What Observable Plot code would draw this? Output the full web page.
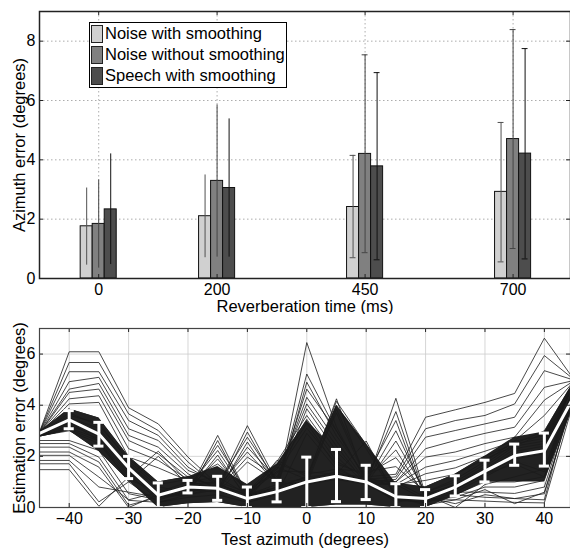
<!DOCTYPE html>
<html><head><meta charset="utf-8">
<script src="https://cdn.jsdelivr.net/npm/d3@7"></script>
<script src="https://cdn.jsdelivr.net/npm/@observablehq/plot@0.6"></script>
<style>
body{margin:0;background:#fff;font-family:"Liberation Sans",Arial,sans-serif;}
#fig{position:relative;width:570px;height:551px;overflow:hidden;background:#fff;}
#fig svg{display:block;}
.legend{position:absolute;left:89px;top:22px;width:196px;height:64px;border:1.5px solid #000;background:#fff;font-size:16.5px;color:#000;}
.row{position:absolute;left:1px;height:17px;display:flex;align-items:center;white-space:nowrap;}
.sw{width:10px;height:16px;border:1px solid #222;margin-right:2px;box-sizing:content-box;}
</style></head><body><div id="fig"></div>
<script>
// ---------- top panel data ----------
const reverbTimes = [0, 200, 450, 700];
const seriesNames = ["Noise with smoothing", "Noise without smoothing", "Speech with smoothing"];
const seriesColors = ["#d0d0d0", "#808080", "#4d4d4d"];
const errColors = ["#505050", "#444444", "#111111"];
const meanNoiseSmooth = [1.76, 2.10, 2.41, 2.92];
const loNoiseSmooth   = [0.45, 0.70, 0.70, 0.56];
const hiNoiseSmooth   = [3.05, 3.49, 4.15, 5.26];
const meanNoiseRaw    = [1.84, 3.29, 4.20, 4.70];
const loNoiseRaw      = [0.35, 0.72, 0.87, 1.01];
const hiNoiseRaw      = [3.32, 5.85, 7.54, 8.39];
const meanSpeech      = [2.33, 3.05, 3.78, 4.21];
const loSpeech        = [0.47, 0.72, 0.63, 0.66];
const hiSpeech        = [4.20, 5.38, 6.94, 7.75];
const topYTicks = [0, 2, 4, 6, 8];

// ---------- bottom panel data ----------
const azimuths = [-45,-40,-35,-30,-25,-20,-15,-10,-5,0,5,10,15,20,25,30,35,40,45];
const meanError = [2.9,3.43,2.87,1.55,0.48,0.8,0.75,0.35,0.62,1.0,1.22,1.0,0.42,0.35,0.8,1.42,2.02,2.22,4.35];
const errLow  = [null,3.08,2.4,1.13,0.0,0.57,0.28,0.0,0.22,0.0,0.23,0.31,0.0,0.0,0.45,1.0,1.65,1.62,null];
const errHigh = [null,3.79,3.33,2.0,0.96,1.06,1.22,0.8,1.06,1.97,2.27,1.65,0.93,0.7,1.24,1.85,2.48,2.91,null];
// dense pack of traces, drawn as two overlapping dark bands
const bandALow  = [2.75,3.0,2.2,1.05,0.0,0.15,0.2,0.0,0.0,0.0,0.1,0.1,0.0,0.0,0.45,1.0,1.6,1.6,4.0];
const bandAHigh = [2.95,3.85,3.5,2.0,1.0,1.2,1.6,0.9,1.7,3.4,2.2,2.0,0.95,0.8,1.3,2.0,2.75,2.95,4.95];
const bandBLow  = [2.75,3.0,2.2,1.05,0.0,0.15,0.2,0.0,0.0,0.0,0.1,0.1,0.0,0.0,0.45,1.0,1.0,1.0,4.0];
const bandBHigh = [2.95,3.85,3.5,2.0,1.0,1.2,1.2,0.9,0.9,1.4,4.0,2.5,0.95,0.8,1.3,2.0,1.8,1.6,4.95];
// individual thin traces: one row per trace, values at the azimuths above
const traces = [
 [2.95,6.09,6.09,3.9,3.27,1.97,0.9,0.5,0.8,1.2,1.3,1.2,1.3,3.53,3.82,4.11,4.46,6.62,5.0],
 [2.94,5.67,5.67,3.66,3.01,1.78,0.8,0.4,0.7,1.1,1.2,1.1,1.2,3.08,3.4,3.6,4.05,5.94,5.0],
 [2.93,5.31,5.31,3.4,2.82,1.58,0.9,0.5,0.6,6.45,3.14,1.0,1.1,2.75,3.01,3.27,3.53,5.35,4.98],
 [2.92,4.92,5.09,3.08,2.62,1.45,1.0,0.3,0.7,1.0,1.2,1.0,1.0,2.3,2.62,2.9,3.14,4.7,4.97],
 [2.91,4.63,4.85,2.82,2.36,1.32,0.7,0.4,0.8,5.22,3.0,1.1,1.0,1.97,2.17,2.5,2.75,4.2,4.96],
 [2.9,4.5,4.63,2.62,2.1,1.19,0.8,0.3,0.6,0.9,1.1,0.9,0.9,1.58,1.84,2.2,2.6,3.6,4.95],
 [2.9,4.25,4.37,2.3,1.84,1.1,0.9,0.5,0.7,4.9,2.8,1.2,0.8,1.32,1.55,2.0,2.5,3.0,4.94],
 [2.89,4.05,4.11,1.97,1.55,1.05,0.7,0.4,0.8,1.0,1.2,1.0,0.9,1.06,1.3,1.9,2.4,2.9,4.93],
 [2.62,2.62,2.23,0.54,0.3,0.6,0.8,3.2,1.0,1.1,4.25,1.0,0.3,0.3,0.3,0.25,0.2,0.18,4.2],
 [2.5,2.5,1.97,0.28,0.2,0.5,0.7,2.95,0.9,1.0,1.3,2.6,0.4,0.4,0.5,0.4,0.35,0.54,4.4],
 [2.36,2.36,1.78,0.09,0.4,0.6,0.9,2.75,1.0,4.63,3.0,1.1,0.3,0.2,0.6,0.6,0.55,0.8,4.5],
 [2.17,2.17,1.58,0.0,0.5,0.7,0.6,2.56,0.8,1.2,4.15,2.45,0.5,0.3,0.4,0.8,0.8,1.06,4.6],
 [2.04,2.04,1.19,0.3,0.6,0.8,0.7,2.36,1.1,4.31,2.6,1.0,0.2,0.4,0.15,0.5,0.35,0.3,4.7],
 [1.84,1.84,0.8,0.6,0.4,0.5,0.8,2.17,0.9,1.0,4.0,2.3,0.4,0.5,0.0,0.9,1.2,1.5,4.75],
 [1.71,1.71,0.22,1.0,2.0,0.9,0.7,1.97,1.2,4.05,2.4,0.9,0.3,0.2,0.5,1.0,1.0,1.2,4.8],
 [1.48,1.48,0.05,1.2,2.2,1.0,0.6,1.78,1.0,0.9,3.85,1.2,0.4,0.1,0.3,0.7,0.15,0.6,4.3],
 [2.88,3.6,3.3,1.8,0.8,0.6,2.82,0.5,0.9,3.86,2.2,1.0,0.9,0.3,0.7,1.3,1.9,2.1,4.9],
 [2.87,3.5,3.1,1.7,0.7,0.5,2.62,0.4,1.85,1.2,3.7,1.1,1.0,0.4,0.8,1.4,2.0,2.2,4.9],
 [2.86,3.4,3.0,1.6,0.6,0.7,2.43,0.6,1.8,3.6,2.0,0.9,4.27,0.5,0.9,1.5,2.1,2.3,4.88],
 [2.85,3.3,2.9,1.5,0.5,0.8,2.23,0.5,1.72,1.3,1.5,1.0,3.75,0.4,0.7,1.4,2.2,2.4,4.87],
 [2.84,3.2,2.8,1.4,0.4,0.6,2.05,0.3,1.65,3.45,1.8,1.2,3.4,0.3,0.8,1.5,2.3,2.5,4.86],
 [2.83,3.1,2.7,1.3,0.3,0.7,1.9,0.4,1.58,1.1,1.4,1.0,3.0,0.5,0.9,1.6,2.4,2.6,4.85],
 [2.82,3.05,2.6,1.2,0.5,0.9,1.0,0.6,1.5,3.3,1.6,0.9,2.6,0.6,1.0,1.7,2.5,2.7,4.83],
 [2.8,3.0,2.5,1.1,0.6,1.0,1.2,0.5,1.42,1.4,1.3,1.1,2.25,0.4,0.6,1.2,1.8,1.4,4.8],
 [2.86,3.7,3.2,1.9,0.9,1.1,1.7,0.7,1.35,3.1,1.7,1.3,1.95,0.5,0.7,1.3,1.7,1.2,4.75],
 [2.84,3.35,2.6,1.0,0.2,0.4,0.5,0.2,0.5,2.9,1.5,1.4,1.6,0.6,1.1,1.8,2.6,2.8,4.85]
];
const bottomXTicks = [-40,-30,-20,-10,0,10,20,30,40];
const bottomYTicks = [0, 2, 4, 6];

const font = '"Liberation Sans", Arial, Helvetica, sans-serif';
const fig = document.getElementById("fig");

// ---------- top panel ----------
{
  const W = 570, H = 314, mL = 39, mR = 0, mT = 11, mB = 36;
  const pw = W - mL - mR, ph = H - mT - mB;
  const step = 20.3; // bar width in x units
  const means = [meanNoiseSmooth, meanNoiseRaw, meanSpeech];
  const los = [loNoiseSmooth, loNoiseRaw, loSpeech];
  const his = [hiNoiseSmooth, hiNoiseRaw, hiSpeech];
  const rows = [];
  seriesNames.forEach((s, k) => reverbTimes.forEach((rt, i) => rows.push({series: s, k, rt, mean: means[k][i], lo: los[k][i], hi: his[k][i]})));
  const cx = d => d.rt + (d.k - 1) * step;
  const caps = rows.filter(d => d.rt >= 450).flatMap(d => [{...d, v: d.lo}, {...d, v: d.hi}]);
  const capHalf = 5;
  const marks = [
    Plot.gridY(topYTicks.slice(1), {stroke: "#999", strokeOpacity: 0.8, strokeDasharray: "1.5,2.5"}),
    Plot.gridX(reverbTimes, {stroke: "#999", strokeOpacity: 0.8, strokeDasharray: "1.5,2.5"}),
    Plot.rect(rows, {x1: d => cx(d) - step / 2, x2: d => cx(d) + step / 2, y1: 0, y2: "mean", fill: "series", stroke: "#111", strokeWidth: 1}),
  ];
  [0, 1, 2].forEach(k => {
    marks.push(Plot.ruleX(rows.filter(d => d.k === k), {x: cx, y1: "lo", y2: "hi", stroke: errColors[k], strokeWidth: 1}));
    marks.push(Plot.ruleY(caps.filter(d => d.k === k), {y: "v", x1: d => cx(d) - capHalf, x2: d => cx(d) + capHalf, stroke: errColors[k], strokeWidth: 1}));
  });
  marks.push(
    Plot.ruleY(topYTicks, {insetRight: pw - 4, stroke: "#222"}),
    Plot.ruleY(topYTicks, {insetLeft: pw - 4, stroke: "#222"}),
    Plot.ruleX(reverbTimes, {insetBottom: ph - 4, stroke: "#222"}),
    Plot.ruleX(reverbTimes, {insetTop: ph - 4, stroke: "#222"}),
    Plot.frame({stroke: "#222", strokeWidth: 1.5}),
    Plot.axisX(reverbTimes, {tickSize: 0, tickPadding: 5, label: null}),
    Plot.axisY(topYTicks, {tickSize: 0, tickPadding: 4, label: null}),
    Plot.text(["Reverberation time (ms)"], {frameAnchor: "bottom", dy: 28, lineAnchor: "middle", textAnchor: "middle", fontSize: 16.5}),
    Plot.text(["Azimuth error (degrees)"], {frameAnchor: "left", dx: -20, rotate: -90, lineAnchor: "middle", textAnchor: "middle", fontSize: 16.5})
  );
  const p = Plot.plot({
    width: W, height: H, marginLeft: mL, marginRight: mR, marginTop: mT, marginBottom: mB,
    style: {fontFamily: font, fontSize: "16px", color: "#000", background: "white"},
    x: {domain: [-100, 797]},
    y: {domain: [0, 9]},
    color: {domain: seriesNames, range: seriesColors},
    marks
  });
  fig.appendChild(p);
}

// legend (drawn inside the top panel area)
{
  const lg = document.createElement("div");
  lg.className = "legend";
  seriesNames.forEach((s, k) => {
    const r = document.createElement("div");
    r.className = "row";
    r.style.top = (2 + k * 21) + "px";
    const sw = document.createElement("div");
    sw.className = "sw";
    sw.style.background = seriesColors[k];
    r.appendChild(sw);
    const t = document.createElement("span");
    t.textContent = s;
    r.appendChild(t);
    lg.appendChild(r);
  });
  fig.appendChild(lg);
}

// ---------- bottom panel ----------
{
  const W = 570, H = 237, mL = 39, mR = 0, mT = 14, mB = 44;
  const pw = W - mL - mR, ph = H - mT - mB;
  const tracePts = traces.flatMap((row, j) => row.map((v, i) => ({id: j, az: azimuths[i], v})));
  const bandA = azimuths.map((a, i) => ({az: a, lo: bandALow[i], hi: bandAHigh[i]}));
  const bandB = azimuths.map((a, i) => ({az: a, lo: bandBLow[i], hi: bandBHigh[i]}));
  const meanRows = azimuths.map((a, i) => ({az: a, v: meanError[i]}));
  const errRows = azimuths.map((a, i) => ({az: a, lo: errLow[i], hi: errHigh[i]})).filter(d => d.lo != null);
  const capRows = errRows.flatMap(d => [{az: d.az, v: d.lo}, {az: d.az, v: d.hi}]);
  const capHalf = 0.85;
  const p = Plot.plot({
    width: W, height: H, marginLeft: mL, marginRight: mR, marginTop: mT, marginBottom: mB,
    style: {fontFamily: font, fontSize: "16px", color: "#000", background: "white"},
    x: {domain: [-45, 44.4]},
    y: {domain: [0, 7]},
    marks: [
      Plot.gridY(bottomYTicks.slice(1), {stroke: "#ccc", strokeOpacity: 0.8}),
      Plot.gridX(bottomXTicks, {stroke: "#ccc", strokeOpacity: 0.8}),
      Plot.areaY(bandA, {x: "az", y1: "lo", y2: "hi", fill: "#222", clip: true}),
      Plot.areaY(bandB, {x: "az", y1: "lo", y2: "hi", fill: "#222", clip: true}),
      Plot.line(tracePts, {x: "az", y: "v", z: "id", stroke: "#1a1a1a", strokeWidth: 0.8, clip: true}),
      Plot.line(meanRows, {x: "az", y: "v", stroke: "#fff", strokeWidth: 3, clip: true}),
      Plot.ruleX(errRows, {x: "az", y1: "lo", y2: "hi", stroke: "#fff", strokeWidth: 3}),
      Plot.ruleY(capRows, {y: "v", x1: d => d.az - capHalf, x2: d => d.az + capHalf, stroke: "#fff", strokeWidth: 3}),
      Plot.ruleY(bottomYTicks, {insetRight: pw - 4, stroke: "#222"}),
      Plot.ruleY(bottomYTicks, {insetLeft: pw - 4, stroke: "#222"}),
      Plot.ruleX(bottomXTicks, {insetBottom: ph - 4, stroke: "#222"}),
      Plot.ruleX(bottomXTicks, {insetTop: ph - 4, stroke: "#222"}),
      Plot.frame({stroke: "#444", strokeWidth: 1.2}),
      Plot.axisX(bottomXTicks, {tickSize: 0, tickPadding: 5, label: null}),
      Plot.axisY(bottomYTicks, {tickSize: 0, tickPadding: 4, label: null}),
      Plot.text(["Test azimuth (degrees)"], {frameAnchor: "bottom", dy: 32, lineAnchor: "middle", textAnchor: "middle", fontSize: 16.5}),
      Plot.text(["Estimation error (degrees)"], {frameAnchor: "left", dx: -20, rotate: -90, lineAnchor: "middle", textAnchor: "middle", fontSize: 16.5})
    ]
  });
  fig.appendChild(p);
}
</script></body></html>
